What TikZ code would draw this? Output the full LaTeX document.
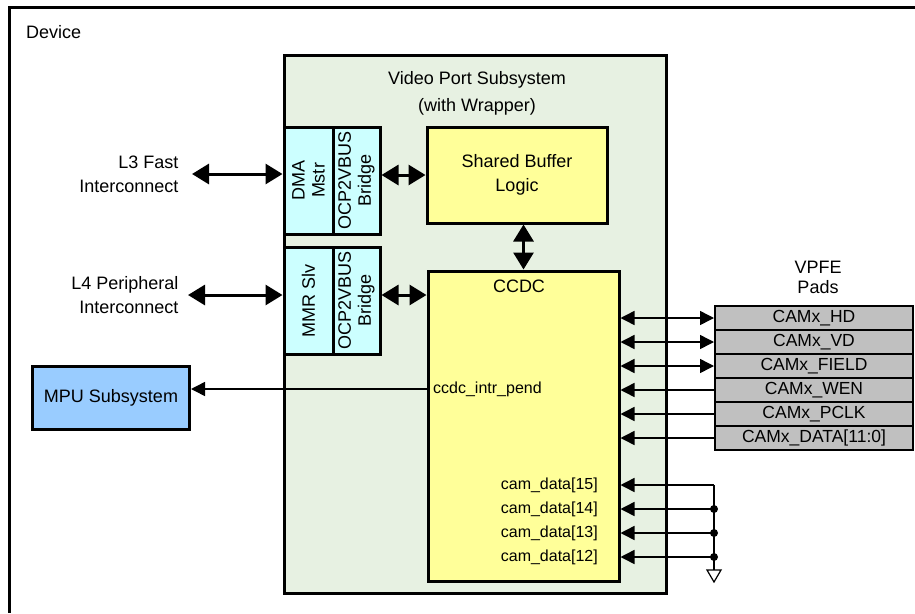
\documentclass[tikz,border=0pt]{standalone}
\usepackage{fontspec}
\setmainfont{Liberation Sans}
\usetikzlibrary{arrows.meta}

\definecolor{vpssgreen}{RGB}{231,241,226}
\definecolor{bridgecyan}{RGB}{204,255,255}
\definecolor{logicyellow}{RGB}{255,255,153}
\definecolor{mpublue}{RGB}{153,204,255}
\definecolor{padgray}{RGB}{192,192,192}

\begin{document}
\begin{tikzpicture}[x=1pt, y=-1pt, font=\fontsize{18}{24}\selectfont,
		block/.style={draw, line width=3pt, inner sep=1pt, align=center},
		bridge/.style={block, fill=bridgecyan, rotate=90, minimum width=107pt,
			font=\fontsize{18}{20}\selectfont},
		bus/.style={line width=3pt,
			{Triangle[length=17pt, width=20pt]}-{Triangle[length=17pt, width=20pt]}},
		sig/.style={line width=1.5pt, >={Triangle[length=14pt, width=14pt]}},
		padbox/.style={draw, line width=2pt, fill=padgray, minimum width=198pt,
			minimum height=24pt, inner sep=0pt, font=\fontsize{17.5}{20}\selectfont},
		small/.style={inner sep=0pt, font=\fontsize{16}{18}\selectfont}]
		\useasboundingbox (0, 0) rectangle (915, 613);
		% Device frame, cut off at the right and bottom.
		\draw[line width=3pt] (915, 7) -- (9, 7) -- (9, 613);
		\node[anchor=west, inner sep=0pt] (device) at (26, 32) {Device};
		% Video port subsystem and its blocks.
		\node[block, fill=vpssgreen, minimum width=382pt, minimum height=538pt] (vpss) at (475, 324) {};
		\node[align=center, font=\fontsize{18}{27}\selectfont] (vpsstitle) at (477, 93)
			{Video Port Subsystem\\(with Wrapper)};
		\node[bridge, minimum height=49pt] (dma) at (308.5, 180.5) {DMA\\Mstr};
		\node[bridge, minimum height=47pt] (dmabr) at (356.5, 180.5) {OCP2VBUS\\Bridge};
		\node[bridge, minimum height=49pt] (mmr) at (308.5, 300.5) {MMR Slv};
		\node[bridge, minimum height=47pt] (mmrbr) at (356.5, 300.5) {OCP2VBUS\\Bridge};
		\node[block, fill=logicyellow, minimum width=180pt, minimum height=96pt] (sbl) at (517, 175)
			{Shared Buffer\\Logic};
		\node[block, fill=logicyellow, minimum width=191pt, minimum height=310pt] (ccdc) at (523.5, 426) {};
		\node (ccdclbl) at (519, 286) {CCDC};
		\node[block, fill=mpublue, minimum width=157pt, minimum height=63pt] (mpu) at (111, 397.5)
			{MPU Subsystem};
		% Interconnects (bridges are turned, so north is their left side).
		\node[align=right, anchor=east] (l3) at (182, 174) {L3 Fast\\Interconnect};
		\node[align=right, anchor=east] (l4) at (182, 295) {L4 Peripheral\\Interconnect};
		\draw[bus] ([xshift=10pt]l3.east) -- (dma.north |- l3.east);
		\draw[bus] ([xshift=6pt]l4.east) -- (mmr.north |- l4.east);
		\draw[bus] (dmabr.south |- sbl.west) -- (sbl.west);
		\draw[bus] (mmrbr.south |- l4.east) -- (ccdc.west |- l4.east);
		\draw[bus] (ccdc.north |- sbl.south) -- (ccdc.north);
		% Interrupt to the MPU.
		\node[small, anchor=west] (intr) at (433, 389) {ccdc\_intr\_pend};
		\draw[sig, ->] (ccdc.west |- intr.west) -- (mpu.east |- intr.west);
		% VPFE pads.
		\node[align=center, font=\fontsize{18}{20}\selectfont] (vpfe) at (818, 277) {VPFE\\Pads};
		\foreach \i/\pin in {1/HD, 2/VD, 3/FIELD, 4/WEN, 5/PCLK, 6/{DATA[11:0]}} {
			\node[padbox] (pad\i) at (814, 294 + 24*\i) {CAMx\_\pin};
		}
		\foreach \i in {1, 2, 3}
			\draw[sig, <->] (ccdc.east |- pad\i.west) -- (pad\i.west);
		\foreach \i in {4, 5, 6}
			\draw[sig, <-] (ccdc.east |- pad\i.west) -- (pad\i.west);
		% Upper data bits tied to ground.
		\foreach \i/\b in {0/15, 1/14, 2/13, 3/12} {
			\node[small, anchor=east] (cam\b) at (598, 485 + 24*\i) {cam\_data[\b]};
			\coordinate (tie\b) at (714, 485 + 24*\i);
			\draw[sig, <-] (ccdc.east |- tie\b) -- (tie\b);
		}
		\coordinate (gnd) at (714, 570);
		\draw[sig] (tie15) -- (gnd);
		\foreach \b in {14, 13, 12}
			\fill (tie\b) circle (4pt);
		\draw[line width=1.2pt, fill=white] (gnd) ++(-7, 0) -- ++(14, 0) -- ++(-7, 12) -- cycle;
	\end{tikzpicture}
\end{document}
